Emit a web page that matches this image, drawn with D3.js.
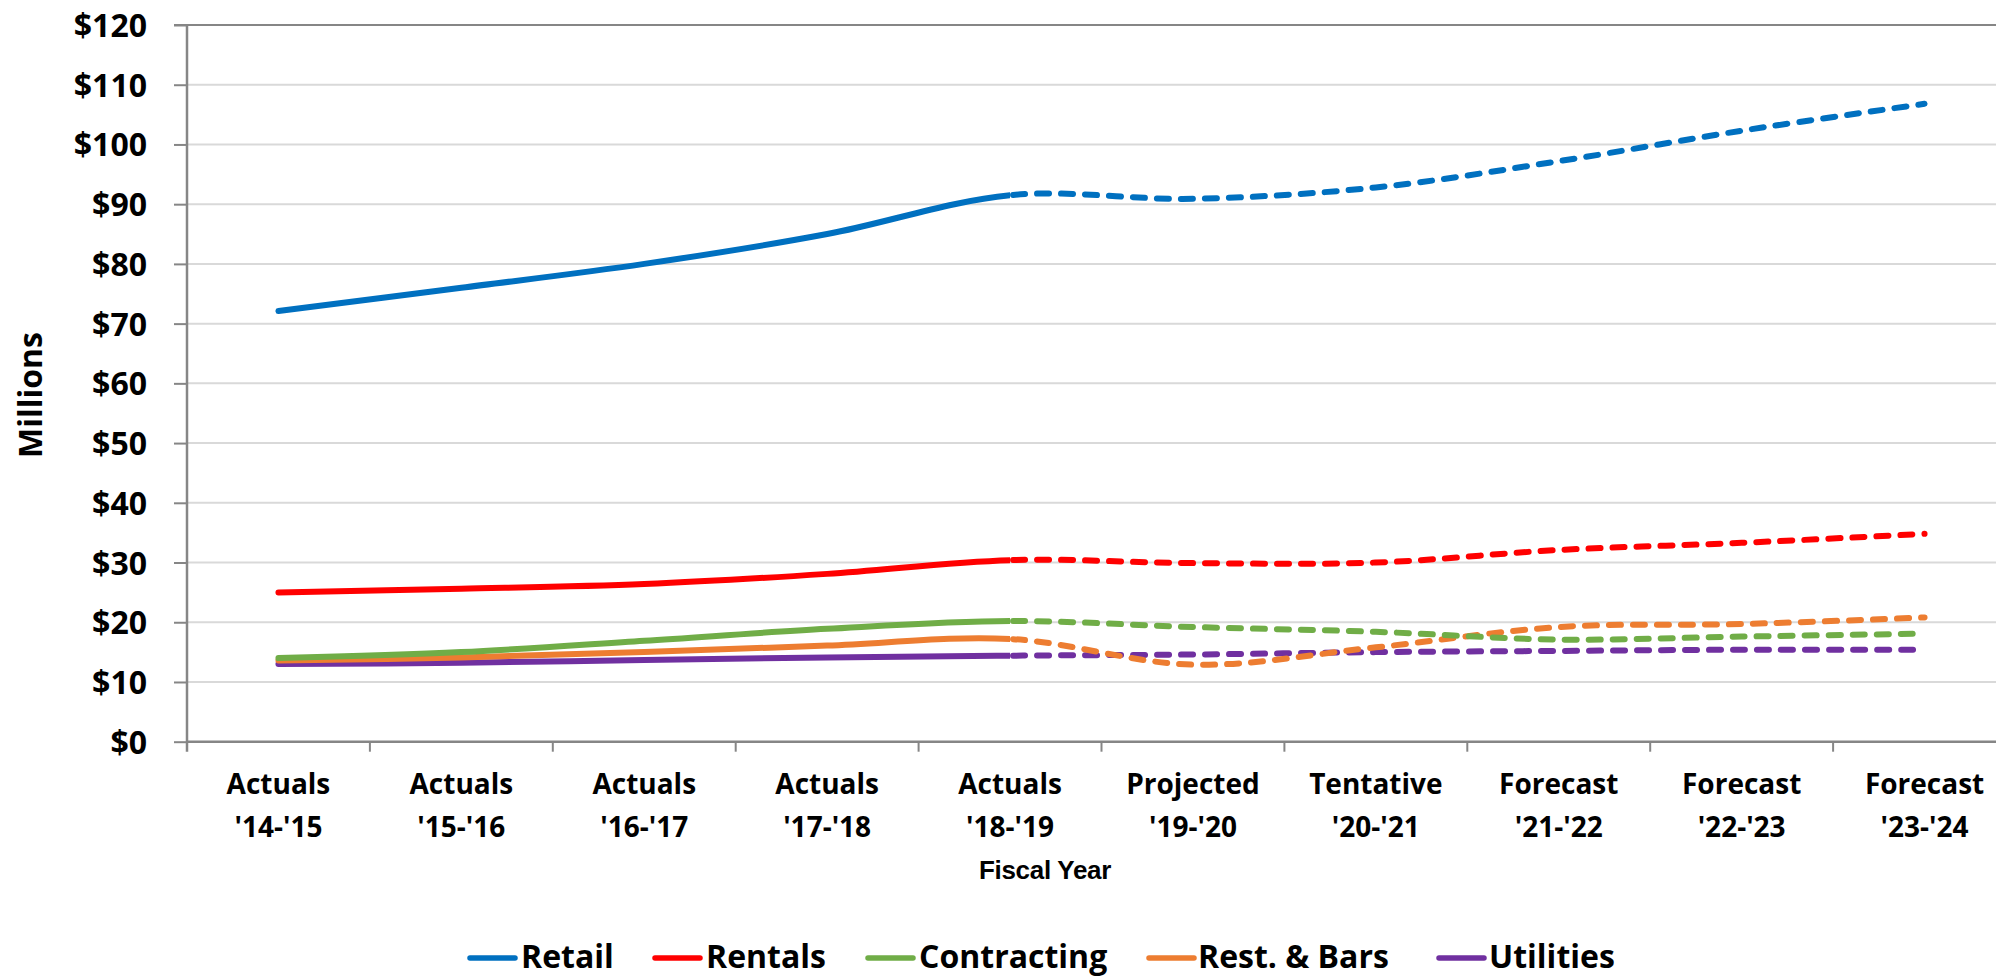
<!DOCTYPE html>
<html>
<head>
<meta charset="utf-8">
<script src="https://cdn.jsdelivr.net/npm/d3@7"></script>
<style>
  html, body { margin: 0; padding: 0; background: #fff; }
  svg { display: block; }
  .calib { font-family: "Open Sans", Lato, sans-serif; font-weight: bold; fill: #000; }
</style>
</head>
<body>
<svg id="chart" width="1996" height="977"></svg>
<script>
// ---- data ----
const categories = [
  ["Actuals", "'14-'15"], ["Actuals", "'15-'16"], ["Actuals", "'16-'17"],
  ["Actuals", "'17-'18"], ["Actuals", "'18-'19"], ["Projected", "'19-'20"],
  ["Tentative", "'20-'21"], ["Forecast", "'21-'22"], ["Forecast", "'22-'23"],
  ["Forecast", "'23-'24"]
];
const seriesNames = ["Retail", "Rentals", "Contracting", "Rest. & Bars", "Utilities"];
const retail      = [72.1, 76.0, 80.0, 85.0, 91.5, 90.9, 92.8, 97.2, 102.3, 106.8];
const rentals     = [25.0, 25.6, 26.4, 28.1, 30.4, 29.9, 30.0, 32.1, 33.3, 34.8];
const contracting = [14.0, 15.0, 16.9, 18.9, 20.2, 19.2, 18.4, 17.1, 17.6, 18.1];
const restBars    = [13.6, 14.1, 15.0, 16.1, 17.2, 12.9, 15.8, 19.2, 19.7, 20.8];
const utilities   = [13.0, 13.2, 13.7, 14.1, 14.4, 14.6, 15.0, 15.2, 15.4, 15.4];
const yTicks = [0, 10, 20, 30, 40, 50, 60, 70, 80, 90, 100, 110, 120];
const lastActualIndex = 4;

const colors = ["#0070C0", "#FF0000", "#70AD47", "#ED7D31", "#7030A0"];
const seriesValues = [retail, rentals, contracting, restBars, utilities];

// ---- layout ----
const svg = d3.select("#chart");
const plotLeft = 187, plotRight = 2016, plotTop = 25, plotBottom = 741.7;

const x = d3.scaleBand().domain(d3.range(categories.length)).range([plotLeft, plotRight]);
const y = d3.scaleLinear().domain([0, 120]).range([plotBottom, plotTop]);
const cx = i => x(i) + x.bandwidth() / 2;

// gridlines
svg.append("g").selectAll("line").data(yTicks.filter(t => t > 0 && t < 120)).join("line")
  .attr("x1", plotLeft).attr("x2", 1996)
  .attr("y1", d => y(d)).attr("y2", d => y(d))
  .attr("stroke", "#d9d9d9").attr("stroke-width", 2);

// top border
svg.append("line").attr("x1", 174).attr("x2", 1996).attr("y1", y(120)).attr("y2", y(120))
  .attr("stroke", "#868686").attr("stroke-width", 2);

// y axis
const yAxis = d3.axisLeft(y).tickValues(yTicks).tickSize(13).tickFormat(d => "$" + d);
const gy = svg.append("g").attr("transform", `translate(${plotLeft},0)`).call(yAxis);
gy.select(".domain").remove();
gy.selectAll(".tick line").attr("stroke", "#868686").attr("stroke-width", 2);
gy.selectAll(".tick text").attr("class", "calib").attr("x", -40).attr("dy", "0.36em")
  .style("font-size", "32px").attr("text-anchor", "end");
svg.append("line").attr("x1", plotLeft).attr("x2", plotLeft).attr("y1", plotTop - 1).attr("y2", plotBottom + 10)
  .attr("stroke", "#868686").attr("stroke-width", 2.5);

// x axis
const xAxis = d3.axisBottom(x).tickSize(0).tickFormat("");
const gx = svg.append("g").attr("transform", `translate(0,${plotBottom})`).call(xAxis);
gx.select(".domain").remove();
svg.append("line").attr("x1", plotLeft).attr("x2", 1996).attr("y1", plotBottom).attr("y2", plotBottom)
  .attr("stroke", "#868686").attr("stroke-width", 2.5);
svg.append("g").selectAll("line").data(d3.range(1, categories.length)).join("line")
  .attr("x1", i => x(i)).attr("x2", i => x(i))
  .attr("y1", plotBottom).attr("y2", plotBottom + 10)
  .attr("stroke", "#868686").attr("stroke-width", 2);

const xl = svg.append("g").selectAll("text").data(categories).join("text")
  .attr("class", "calib").attr("text-anchor", "middle")
  .style("font-size", "28px");
xl.append("tspan").attr("x", (d, i) => cx(i)).attr("y", 794).text(d => d[0]);
xl.append("tspan").attr("x", (d, i) => cx(i)).attr("y", 837).text(d => d[1]);

// axis titles
svg.append("text").attr("class", "calib")
  .attr("transform", "translate(42,395) rotate(-90)")
  .attr("text-anchor", "middle").style("font-size", "32px").text("Millions");
svg.append("text")
  .attr("x", 1045).attr("y", 879).attr("text-anchor", "middle")
  .style("font-family", "'Liberation Sans', Arial, sans-serif").style("font-weight", "bold")
  .style("font-size", "26px").style("letter-spacing", "-0.3px").text("Fiscal Year");

// lines
const line = d3.line().x((d, i) => cx(i)).y(d => y(d)).curve(d3.curveCardinal.tension(0));
const defs = svg.append("defs");
const splitX = cx(lastActualIndex);
defs.append("clipPath").attr("id", "clipSolid").append("rect")
  .attr("x", 0).attr("y", 0).attr("width", splitX).attr("height", 977);
defs.append("clipPath").attr("id", "clipDash").append("rect")
  .attr("x", splitX).attr("y", 0).attr("width", 1996 - splitX).attr("height", 977);

const drawOrder = [4, 3, 2, 1, 0];
drawOrder.forEach(s => {
  const vals = seriesValues[s];
  const d = line(vals);
  svg.append("path").attr("d", d).attr("fill", "none")
    .attr("stroke", colors[s]).attr("stroke-width", 6).attr("stroke-linecap", "round")
    .attr("clip-path", "url(#clipSolid)");
  const dp = svg.append("path").attr("d", d).attr("fill", "none")
    .attr("stroke", colors[s]).attr("stroke-width", 6).attr("stroke-linecap", "round")
    .attr("stroke-dasharray", "12,12")
    .attr("clip-path", "url(#clipDash)");
  const node = dp.node();
  let lo = 0, hi = node.getTotalLength();
  for (let k = 0; k < 40; k++) {
    const mid = (lo + hi) / 2;
    if (node.getPointAtLength(mid).x < splitX) lo = mid; else hi = mid;
  }
  dp.attr("stroke-dashoffset", -(lo + 3));
});

// legend
const legendItems = [
  { lx: 467, tx: 521 }, { lx: 652, tx: 706 }, { lx: 865, tx: 919 },
  { lx: 1146, tx: 1198 }, { lx: 1436, tx: 1489 }
];
const lg = svg.append("g");
seriesNames.forEach((name, i) => {
  lg.append("line").attr("x1", legendItems[i].lx + 3).attr("x2", legendItems[i].lx + 48)
    .attr("y1", 958).attr("y2", 958)
    .attr("stroke", colors[i]).attr("stroke-width", 5.5).attr("stroke-linecap", "round");
  lg.append("text").attr("class", "calib").attr("x", legendItems[i].tx).attr("y", 968)
    .style("font-size", "32px").text(name);
});
</script>
</body>
</html>
